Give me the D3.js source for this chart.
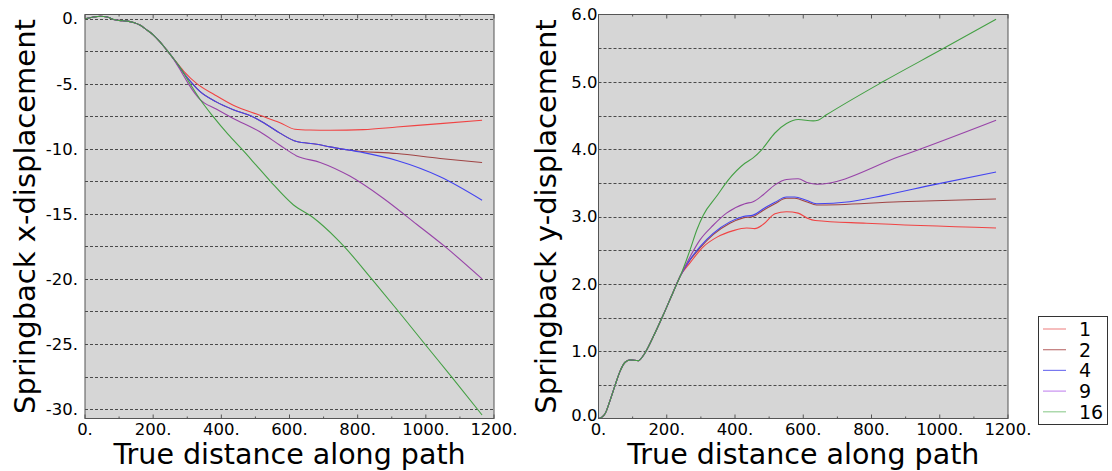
<!DOCTYPE html>
<html>
<head>
<meta charset="utf-8">
<script src="https://cdn.jsdelivr.net/npm/d3@7"></script>
<style>
  body { margin: 0; background: #fff; }
  text { font-family: "DejaVu Sans", sans-serif; fill: #000; }
</style>
</head>
<body>
<div id="content"></div>
<script>
// series names (legend) and colours
const SERIES = ["1", "2", "4", "9", "16"];
const LINE_COLORS = ["#f04444", "#a04444", "#4444f0", "#9844a8", "#44a044"];
const LEGEND_COLORS = ["#f09090", "#c07878", "#7878f0", "#c890f0", "#98d098"];

// tick labels
const X_TICKS = [0, 200, 400, 600, 800, 1000, 1200];
const X_TICK_LABELS = ["0.", "200.", "400.", "600.", "800.", "1000.", "1200."];
const XDISP_TICKS = [0, -5, -10, -15, -20, -25, -30];
const XDISP_TICK_LABELS = ["0.", "-5.", "-10.", "-15.", "-20.", "-25.", "-30."];
const YDISP_TICKS = [0, 1, 2, 3, 4, 5, 6];
const YDISP_TICK_LABELS = ["0.0", "1.0", "2.0", "3.0", "4.0", "5.0", "6.0"];

// x-displacement: shared trunk then one branch per series  [distance, value]
const xTrunk = [[0,-0.02],[25,0.12],[45,0.18],[65,0.12],[88,-0.1],[110,-0.17],[125,-0.2],[145,-0.32],
  [161,-0.5],[180,-0.85],[200,-1.25],[220,-1.8],[240,-2.43],[255,-2.92]];
const xDisp1 = [[290,-4.05],[328,-5.0],[380,-5.85],[435,-6.66],[513,-7.43],[572,-8.0],[616,-8.5],
  [660,-8.56],[719,-8.58],[817,-8.53],[915,-8.33],[1042,-8.07],[1165,-7.81]];
const xDisp2 = [[290,-4.2],[315,-5.0],[337,-5.6],[385,-6.4],[435,-7.0],[489,-7.5],[530,-8.1],[572,-8.8],
  [621,-9.45],[680,-9.65],[719,-9.86],[778,-10.12],[915,-10.37],[1042,-10.75],[1165,-11.06]];
const xDisp4 = [[290,-4.2],[315,-5.0],[337,-5.6],[385,-6.4],[435,-7.0],[489,-7.5],[530,-8.1],[572,-8.8],
  [621,-9.45],[680,-9.65],[719,-9.86],[817,-10.3],[915,-10.9],[1042,-12.15],[1165,-13.95]];
const xDisp9 = [[285,-4.2],[303,-5.0],[337,-6.2],[385,-6.95],[435,-7.67],[513,-8.7],[572,-9.73],
  [621,-10.55],[690,-11.05],[777,-12.1],[875,-13.8],[973,-15.8],[1060,-17.6],[1165,-20.0]];
const xDisp16 = [[275,-3.6],[308,-5.0],[340,-6.3],[375,-7.5],[420,-8.9],[459,-10.0],[500,-11.2],[544,-12.5],
  [611,-14.3],[670,-15.3],[738,-16.9],[760,-17.5],[841,-20.0],[920,-22.5],[997,-25.0],[1075,-27.5],[1165,-30.45]];

// y-displacement
const yTrunk = [[0,0],[10,0.02],[20,0.077],[34,0.27],[49,0.5],[63,0.7],[78,0.835],[93,0.87],[117,0.86],
  [132,0.94],[161,1.22],[190,1.54],[219,1.88],[240,2.12]];
const yDisp1 = [[268,2.31],[307,2.55],[346,2.69],[395,2.79],[434,2.83],[458,2.82],[482,2.88],[517,3.04],
  [551,3.07],[585,3.05],[614,2.97],[635,2.94],[785,2.9],[1165,2.83]];
const yDisp2 = [[268,2.35],[297,2.53],[336,2.73],[385,2.9],[424,2.98],[453,3.0],[482,3.09],[517,3.19],
  [551,3.27],[575,3.27],[609,3.22],[639,3.17],[882,3.22],[1165,3.26]];
const yDisp4 = [[268,2.36],[297,2.55],[336,2.75],[385,2.92],[424,3.0],[453,3.02],[482,3.11],[517,3.21],
  [551,3.29],[575,3.29],[609,3.24],[639,3.19],[736,3.22],[833,3.31],[980,3.47],[1165,3.66]];
const yDisp9 = [[268,2.4],[297,2.65],[336,2.87],[375,3.05],[429,3.19],[453,3.22],[482,3.32],[517,3.47],
  [551,3.55],[585,3.56],[614,3.5],[639,3.48],[882,3.89],[1165,4.43]];
const yDisp16 = [[268,2.5],[288,2.8],[307,3.02],[346,3.3],[380,3.54],[429,3.79],[453,3.87],[478,3.99],
  [517,4.24],[551,4.38],[585,4.44],[629,4.42],[643,4.43],[668,4.51],[833,5.0],[1009,5.49],[1165,5.93]];

const WIDTH = 1112;
const HEIGHT = 471;

const svg = d3.select("#content").append("svg").attr("width", WIDTH).attr("height", HEIGHT);

function drawPanel(opts) {
  const x = d3.scaleLinear().domain([0, 1200]).range([opts.left, opts.right]);
  const y = d3.scaleLinear().domain(opts.yDomain).range([418.5, 14.5]);
  const g = svg.append("g");

  g.append("rect")
    .attr("x", opts.left).attr("y", 14.5)
    .attr("width", opts.right - opts.left).attr("height", 404)
    .attr("fill", "#d6d6d6");

  // dashed horizontal grid
  g.selectAll(".grid").data(opts.grid).enter().append("line")
    .attr("x1", opts.left).attr("x2", opts.right)
    .attr("y1", (d) => Math.round(y(d)) + 0.5).attr("y2", (d) => Math.round(y(d)) + 0.5)
    .attr("stroke", "#4a4a4a").attr("stroke-width", 1).attr("stroke-dasharray", "3,2");

  const line = d3.line().x((d) => x(d[0])).y((d) => y(d[1])).curve(d3.curveMonotoneX);
  opts.series.forEach((s, i) => {
    g.append("path")
      .attr("d", line(opts.trunk.concat(s)))
      .attr("fill", "none")
      .attr("stroke", LINE_COLORS[i])
      .attr("stroke-width", 1.1);
  });

  // ticks along bottom and top (inward), minor every 100
  const minor = d3.range(100, 1200, 200);
  [[418.5, -1], [14.5, 1]].forEach(([yy, dir]) => {
    g.selectAll(null).data(X_TICKS).enter().append("line")
      .attr("x1", (d) => x(d)).attr("x2", (d) => x(d))
      .attr("y1", yy).attr("y2", yy + dir * 4)
      .attr("stroke", "#555");
    g.selectAll(null).data(minor).enter().append("line")
      .attr("x1", (d) => x(d)).attr("x2", (d) => x(d))
      .attr("y1", yy).attr("y2", yy + dir * 2)
      .attr("stroke", "#555");
  });

  g.append("rect")
    .attr("x", opts.left).attr("y", 14.5)
    .attr("width", opts.right - opts.left).attr("height", 404)
    .attr("fill", "none").attr("stroke", "#555").attr("stroke-width", 1);

  g.selectAll(null).data(X_TICKS).enter().append("text")
    .attr("x", (d) => x(d)).attr("y", 434.5)
    .attr("text-anchor", "middle").style("font-size", "16.5px")
    .text((d, i) => X_TICK_LABELS[i]);

  g.selectAll(null).data(opts.yTicks).enter().append("text")
    .attr("x", opts.left - opts.yPad).attr("y", (d) => Math.min(y(d), 415))
    .attr("dy", "0.36em")
    .attr("text-anchor", "end").style("font-size", "16.5px")
    .text((d, i) => opts.yLabels[i]);

  g.append("text")
    .attr("x", (opts.left + opts.right) / 2).attr("y", 464)
    .attr("text-anchor", "middle").style("font-size", "28.5px")
    .text("True distance along path");

  g.append("text")
    .attr("transform", "translate(" + opts.labelX + ",216.5) rotate(-90)")
    .attr("text-anchor", "middle").style("font-size", "29px")
    .text(opts.yTitle);
}

drawPanel({
  left: 85, right: 494, yDomain: [-30.72, 0.31],
  grid: d3.range(0, -31, -2.5),
  yTicks: XDISP_TICKS, yLabels: XDISP_TICK_LABELS, yPad: 7,
  trunk: xTrunk, series: [xDisp1, xDisp2, xDisp4, xDisp9, xDisp16],
  labelX: 35, yTitle: "Springback x-displacement"
});

drawPanel({
  left: 598.5, right: 1008, yDomain: [0, 6],
  grid: d3.range(0.5, 6, 0.5),
  yTicks: YDISP_TICKS, yLabels: YDISP_TICK_LABELS, yPad: 1,
  trunk: yTrunk, series: [yDisp1, yDisp2, yDisp4, yDisp9, yDisp16],
  labelX: 556, yTitle: "Springback y-displacement"
});

// legend
const legend = svg.append("g");
legend.append("rect")
  .attr("x", 1038.5).attr("y", 316.5).attr("width", 69).attr("height", 108)
  .attr("fill", "#fff").attr("stroke", "#333");
const items = legend.selectAll(null).data(SERIES).enter().append("g")
  .attr("transform", (d, i) => "translate(0," + (329 + i * 20.7) + ")");
items.append("line")
  .attr("x1", 1043).attr("x2", 1066).attr("y1", 0).attr("y2", 0)
  .attr("stroke", (d, i) => LEGEND_COLORS[i]).attr("stroke-width", 1.2);
items.append("text")
  .attr("x", 1079).attr("dy", "0.36em").style("font-size", "19px")
  .text((d) => d);
</script>
</body>
</html>
